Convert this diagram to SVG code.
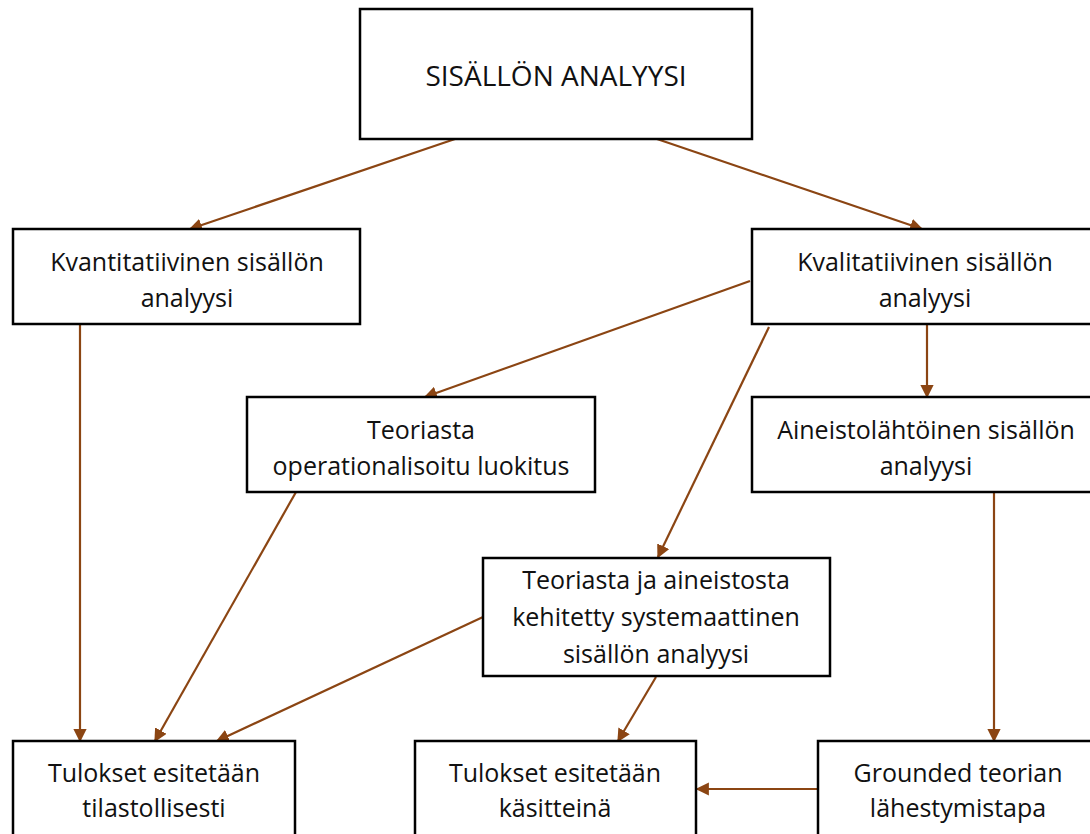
<svg xmlns="http://www.w3.org/2000/svg" width="1090" height="834" viewBox="0 0 1090 834">
<style>
.box{fill:#fff;stroke:#000;stroke-width:2.5}
.t{font-family:"Open Sans","Liberation Sans",sans-serif;font-size:25px;fill:#111;text-anchor:middle}
.big{font-size:28px}
.c{stroke:#8B4513;stroke-width:2.2;fill:none;marker-end:url(#ah)}
</style>
<defs>
<marker id="ah" viewBox="0 0 10 10" refX="9" refY="5" markerWidth="6" markerHeight="6" markerUnits="strokeWidth" orient="auto">
<path d="M0,0 L10,5 L0,10 z" fill="#8B4513"/>
</marker>
</defs>
<rect width="1090" height="834" fill="#fff"/>
<g id="connectors">
<line class="c" x1="455" y1="139" x2="190" y2="229"/>
<line class="c" x1="657" y1="139" x2="922" y2="229"/>
<line class="c" x1="80" y1="324" x2="80" y2="741"/>
<line class="c" x1="750" y1="281" x2="425" y2="397"/>
<line class="c" x1="769" y1="327" x2="658" y2="557"/>
<line class="c" x1="927" y1="324" x2="927" y2="397"/>
<line class="c" x1="296" y1="492" x2="155" y2="741"/>
<line class="c" x1="483" y1="617" x2="217" y2="741"/>
<line class="c" x1="656" y1="677" x2="618" y2="741"/>
<line class="c" x1="994" y1="492" x2="994" y2="741"/>
<line class="c" x1="818" y1="789" x2="697" y2="789"/>
</g>
<g id="n-top"><rect class="box" x="360" y="9" width="392" height="130"/><text class="t big" x="556" y="86">SISÄLLÖN ANALYYSI</text></g>
<g id="n-kvant"><rect class="box" x="13" y="229" width="347" height="95"/><text class="t" x="187" y="271">Kvantitatiivinen sisällön</text><text class="t" x="187" y="307">analyysi</text></g>
<g id="n-kval"><rect class="box" x="752" y="229" width="345" height="95"/><text class="t" x="925" y="271">Kvalitatiivinen sisällön</text><text class="t" x="925" y="307">analyysi</text></g>
<g id="n-oper"><rect class="box" x="247" y="397" width="348" height="95"/><text class="t" x="421" y="439">Teoriasta</text><text class="t" x="421" y="475">operationalisoitu luokitus</text></g>
<g id="n-aineisto"><rect class="box" x="752" y="397" width="345" height="95"/><text class="t" x="926" y="439">Aineistolähtöinen sisällön</text><text class="t" x="926" y="475">analyysi</text></g>
<g id="n-teoja"><rect class="box" x="483" y="558" width="347" height="118"/><text class="t" x="656" y="589">Teoriasta ja aineistosta</text><text class="t" x="656" y="626">kehitetty systemaattinen</text><text class="t" x="656" y="663">sisällön analyysi</text></g>
<g id="n-tilasto"><rect class="box" x="13" y="741" width="282" height="100"/><text class="t" x="154" y="782">Tulokset esitetään</text><text class="t" x="154" y="817">tilastollisesti</text></g>
<g id="n-kasite"><rect class="box" x="415" y="741" width="281" height="100"/><text class="t" x="555" y="782">Tulokset esitetään</text><text class="t" x="555" y="817">käsitteinä</text></g>
<g id="n-grounded"><rect class="box" x="818" y="741" width="280" height="100"/><text class="t" x="958" y="782">Grounded teorian</text><text class="t" x="958" y="817">lähestymistapa</text></g>
</svg>
